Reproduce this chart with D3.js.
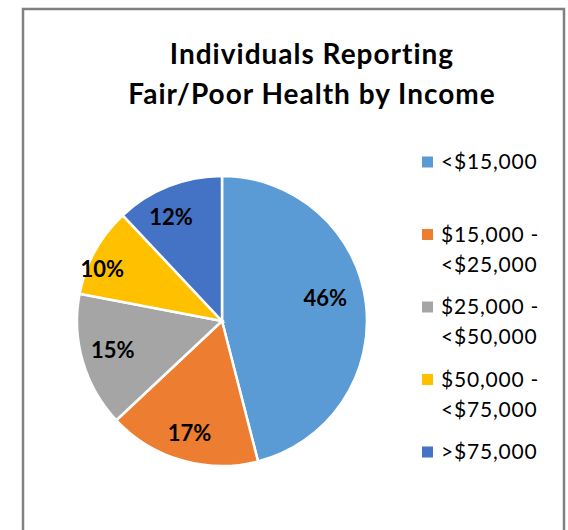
<!DOCTYPE html>
<html lang="en">
  <head>
    <meta charset="UTF-8" />
    <title>Individuals Reporting Fair/Poor Health by Income</title>
    <script src="https://d3js.org/d3.v7.min.js"></script>
    <style>
      body { margin: 0; background: #fff; }
      svg { display: block; }
      text { font-family: Lato, 'Open Sans', sans-serif; }
    </style>
  </head>
  <body>
    <svg class="pie-chart"></svg>

    <script>
      let width = 568
      let height = 530

      // data
      let categories = ['<$15,000', '$15,000 - <$25,000', '$25,000 - <$50,000', '$50,000 - <$75,000', '>$75,000']
      let legendLines = [['<$15,000'], ['$15,000 -', '<$25,000'], ['$25,000 -', '<$50,000'], ['$50,000 -', '<$75,000'], ['>$75,000']]
      let percents = [46, 17, 15, 10, 12]
      let colors = ['#5B9BD5', '#ED7D31', '#A5A5A5', '#FFC000', '#4472C4']
      let titleLines = ['Individuals Reporting', 'Fair/Poor Health by Income']

      let someData = categories.map((c, i) => ({ cat: c, value: percents[i], lines: legendLines[i] }))

      let pieRadius = 145
      let cx = 222
      let cy = 321

      // where excel's "best fit" put each label: radius fraction, angle nudge (deg)
      let labelFit = [[0.73, -5.4], [0.805, 0], [0.78, 1.3], [0.9, -5.4], [0.8, -4.5]]

      let colorScale = d3.scaleOrdinal().domain(categories).range(colors)

      let pieGenerator = d3.pie().sort(null).value(d => d.value)
      let arcGenerator = d3.arc().innerRadius(0).outerRadius(pieRadius)

      let svg = d3.select('svg.pie-chart').attr('width', width).attr('height', height)

      // chart frame
      svg.append('rect')
        .attr('x', 23).attr('y', 9)
        .attr('width', 541).attr('height', 600)
        .style('fill', 'none')
        .style('stroke', '#808080')
        .style('stroke-width', 2.5)

      svg.append('g')
        .selectAll('text')
        .data(titleLines)
        .enter()
        .append('text')
        .attr('x', 312)
        .attr('y', (d, i) => 64 + i * 40)
        .attr('text-anchor', 'middle')
        .style('font-size', '28px')
        .style('font-weight', 'bold')
        .style('letter-spacing', '1px')
        .style('fill', '#000')
        .text(d => d)

      let g = svg.append('g').attr('transform', `translate(${cx}, ${cy})`)
      let arcs = pieGenerator(someData)

      g.selectAll('path')
        .data(arcs)
        .enter()
        .append('path')
        .attr('d', arcGenerator)
        .style('fill', d => colorScale(d.data.cat))
        .style('stroke', '#fff')
        .style('stroke-width', 2.5)

      function labelPos(d, i) {
        let a = (d.startAngle + d.endAngle) / 2 + labelFit[i][1] * Math.PI / 180
        let r = pieRadius * labelFit[i][0]
        return [r * Math.sin(a), -r * Math.cos(a)]
      }

      g.selectAll('text')
        .data(arcs)
        .enter()
        .append('text')
        .attr('transform', (d, i) => `translate(${labelPos(d, i)})`)
        .attr('text-anchor', 'middle')
        .attr('dy', '0.35em')
        .style('font-size', '22px')
        .style('font-weight', 'bold')
        .style('fill', '#000')
        .text(d => d.data.value + '%')

      // legend
      let legend = svg.append('g')
        .selectAll('g')
        .data(someData)
        .enter()
        .append('g')
        .attr('transform', (d, i) => `translate(422, ${162 + i * 72.5})`)

      legend.append('rect')
        .attr('x', 0).attr('y', -5.5)
        .attr('width', 11).attr('height', 11)
        .style('fill', d => colorScale(d.cat))

      legend.append('text')
        .attr('x', 19)
        .attr('y', 0)
        .style('font-size', '21px')
        .style('letter-spacing', '0.8px')
        .style('fill', '#000')
        .selectAll('tspan')
        .data(d => d.lines)
        .enter()
        .append('tspan')
        .attr('x', 19)
        .attr('dy', (d, i) => (i === 0 ? '0.35em' : '30px'))
        .text(d => d)
    </script>
  </body>
</html>
